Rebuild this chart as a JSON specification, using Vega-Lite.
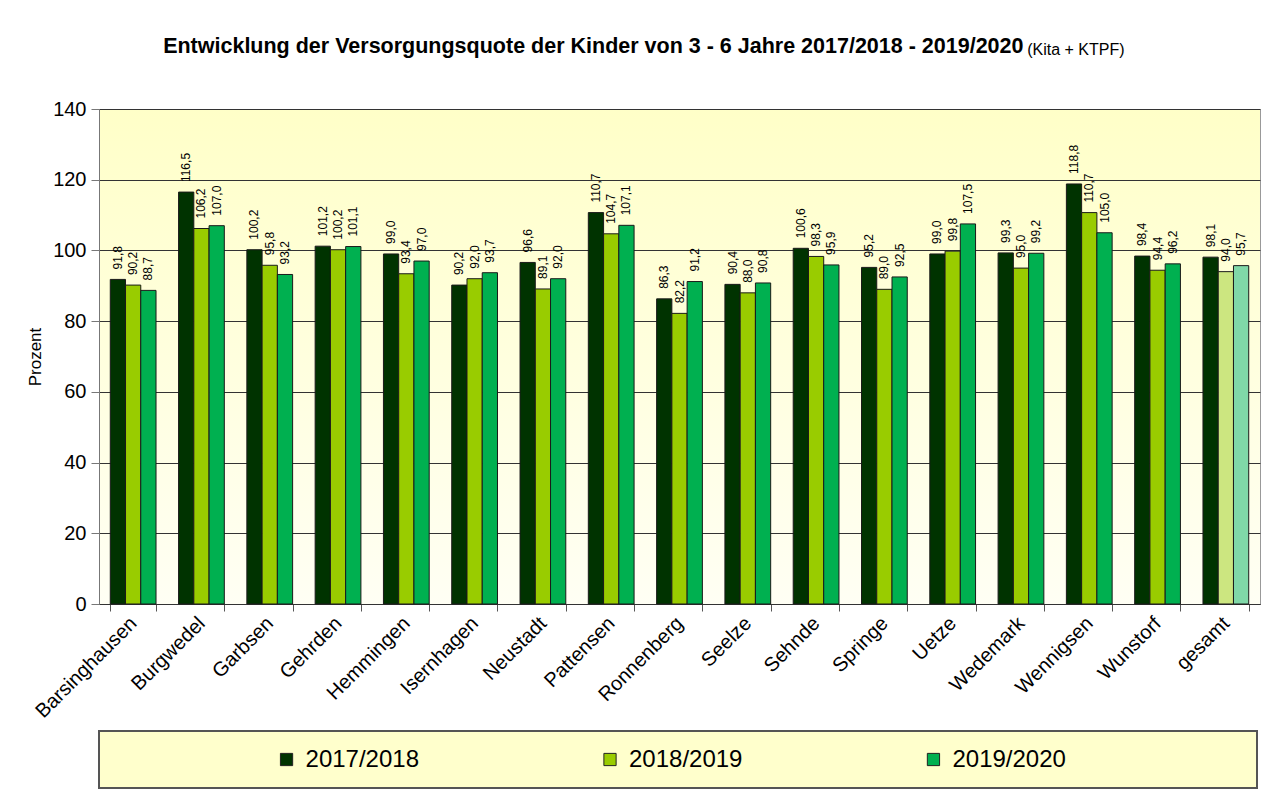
{
  "$schema": "https://vega.github.io/schema/vega-lite/v6.json",
  "background": "white",
  "padding": {"left": 26, "top": 36, "right": 20, "bottom": 5},
  "title": {
    "text": "Entwicklung der Versorgungsquote der Kinder von 3 - 6 Jahre 2017/2018 - 2019/2020",
    "subtitle": "\u200B\u2003\u2003\u2003\u2003\u2003\u2003\u2003\u2003\u2003\u2003\u2003\u2003\u2003\u2003\u2003\u2003\u2003\u2003\u2003\u2003\u2003\u2003\u2003\u2003\u2003\u2003\u2003\u2003\u2003\u2003\u2003\u2003\u2003\u2003\u2003\u2003\u2003\u2003\u2003\u2003\u2003\u2003\u2003\u2003\u2003\u2003\u2003\u2003\u2003\u2003\u2003\u2003\u2003\u2003(Kita + KTPF)",
    "anchor": "start",
    "frame": "bounds",
    "dx": 137,
    "fontSize": 21.5,
    "fontWeight": "bold",
    "font": "Liberation Sans",
    "color": "black",
    "subtitleFontSize": 16,
    "subtitleFont": "Liberation Sans",
    "subtitleColor": "black",
    "subtitlePadding": -16,
    "offset": 41
  },
  "spacing": 8,
  "vconcat": [
    {
      "width": 1161,
      "height": 495,
      "view": {
        "fill": {"gradient": "linear", "x1": 0, "y1": 0, "x2": 0, "y2": 1, "stops": [{"offset": 0, "color": "#FFFFC8"}, {"offset": 1, "color": "#FFFFF4"}]},
        "stroke": "#999999",
        "strokeWidth": 1
      },
      "data": {
        "values": [
          {"Gemeinde": "Barsinghausen", "2017/2018": 91.8, "2018/2019": 90.2, "2019/2020": 88.7},
          {"Gemeinde": "Burgwedel", "2017/2018": 116.5, "2018/2019": 106.2, "2019/2020": 107.0},
          {"Gemeinde": "Garbsen", "2017/2018": 100.2, "2018/2019": 95.8, "2019/2020": 93.2},
          {"Gemeinde": "Gehrden", "2017/2018": 101.2, "2018/2019": 100.2, "2019/2020": 101.1},
          {"Gemeinde": "Hemmingen", "2017/2018": 99.0, "2018/2019": 93.4, "2019/2020": 97.0},
          {"Gemeinde": "Isernhagen", "2017/2018": 90.2, "2018/2019": 92.0, "2019/2020": 93.7},
          {"Gemeinde": "Neustadt", "2017/2018": 96.6, "2018/2019": 89.1, "2019/2020": 92.0},
          {"Gemeinde": "Pattensen", "2017/2018": 110.7, "2018/2019": 104.7, "2019/2020": 107.1},
          {"Gemeinde": "Ronnenberg", "2017/2018": 86.3, "2018/2019": 82.2, "2019/2020": 91.2},
          {"Gemeinde": "Seelze", "2017/2018": 90.4, "2018/2019": 88.0, "2019/2020": 90.8},
          {"Gemeinde": "Sehnde", "2017/2018": 100.6, "2018/2019": 98.3, "2019/2020": 95.9},
          {"Gemeinde": "Springe", "2017/2018": 95.2, "2018/2019": 89.0, "2019/2020": 92.5},
          {"Gemeinde": "Uetze", "2017/2018": 99.0, "2018/2019": 99.8, "2019/2020": 107.5},
          {"Gemeinde": "Wedemark", "2017/2018": 99.3, "2018/2019": 95.0, "2019/2020": 99.2},
          {"Gemeinde": "Wennigsen", "2017/2018": 118.8, "2018/2019": 110.7, "2019/2020": 105.0},
          {"Gemeinde": "Wunstorf", "2017/2018": 98.4, "2018/2019": 94.4, "2019/2020": 96.2},
          {"Gemeinde": "gesamt", "2017/2018": 98.1, "2018/2019": 94.0, "2019/2020": 95.7}
        ]
      },
      "transform": [{"fold": ["2017/2018", "2018/2019", "2019/2020"], "as": ["Jahr", "Wert"]}],
      "encoding": {
        "x": {
          "field": "Gemeinde", "type": "nominal", "sort": null,
          "scale": {"paddingInner": 0.33, "paddingOuter": 0.165},
          "axis": {
            "title": null, "labelAngle": -45, "labelAlign": "right", "labelBaseline": "middle",
            "labelFontSize": 20, "labelColor": "black", "labelPadding": 9,
            "tickBand": "extent", "tickSize": 7, "tickColor": "#555555",
            "domainColor": "#333333", "grid": false
          }
        },
        "xOffset": {"field": "Jahr", "type": "nominal", "scale": {"paddingInner": 0, "paddingOuter": 0}},
        "y": {
          "field": "Wert", "type": "quantitative",
          "scale": {"domain": [0, 140], "nice": false},
          "axis": {
            "title": "Prozent", "titleFontSize": 17, "titleFontWeight": "normal", "titleColor": "black", "titlePadding": 8,
            "values": [0, 20, 40, 60, 80, 100, 120, 140],
            "labelFontSize": 20, "labelColor": "black", "labelPadding": 5,
            "tickSize": 8, "tickColor": "#777777", "domainColor": "#777777",
            "grid": true, "gridColor": "#333333", "gridWidth": 1
          }
        }
      },
      "layer": [
        {
          "mark": {"type": "bar", "stroke": "#1a1a1a", "strokeWidth": 1},
          "encoding": {
            "fill": {
              "condition": [
                {"test": "datum.Gemeinde === 'gesamt' && datum.Jahr === '2018/2019'", "value": "#CCE680"},
                {"test": "datum.Gemeinde === 'gesamt' && datum.Jahr === '2019/2020'", "value": "#80D8A8"}
              ],
              "field": "Jahr", "type": "nominal",
              "scale": {"domain": ["2017/2018", "2018/2019", "2019/2020"], "range": ["#003300", "#99CC00", "#00B050"]},
              "legend": null
            }
          }
        },
        {
          "mark": {"type": "text", "angle": 270, "align": "left", "baseline": "middle", "dx": 10, "dy": 0, "fontSize": 12, "color": "black"},
          "encoding": {
            "text": {"field": "Wert", "type": "quantitative", "format": ".1f"}
          }
        }
      ]
    },
    {
      "width": 1158,
      "height": 57,
      "view": {"fill": "#FFFFCC", "stroke": "#555555", "strokeWidth": 2},
      "data": {"values": [{"Jahr": "2017/2018"}, {"Jahr": "2018/2019"}, {"Jahr": "2019/2020"}]},
      "encoding": {
        "x": {"field": "Jahr", "type": "nominal", "scale": {"type": "point", "padding": 0.79}, "axis": null}
      },
      "layer": [
        {
          "mark": {"type": "point", "shape": "square", "filled": true, "size": 150, "stroke": "#222222", "strokeWidth": 1, "opacity": 1},
          "encoding": {
            "xOffset": {"value": -68},
            "fill": {
              "field": "Jahr", "type": "nominal",
              "scale": {"domain": ["2017/2018", "2018/2019", "2019/2020"], "range": ["#003300", "#99CC00", "#00B050"]},
              "legend": null
            }
          }
        },
        {
          "mark": {"type": "text", "align": "left", "baseline": "middle", "fontSize": 24, "color": "black", "dx": -49},
          "encoding": {"text": {"field": "Jahr"}}
        }
      ]
    }
  ],
  "config": {
    "font": "Liberation Sans",
    "locale": {"number": {"decimal": ",", "thousands": ".", "grouping": [3], "currency": ["", " €"]}},
    "axis": {"labelFont": "Liberation Sans", "titleFont": "Liberation Sans"}
  }
}
